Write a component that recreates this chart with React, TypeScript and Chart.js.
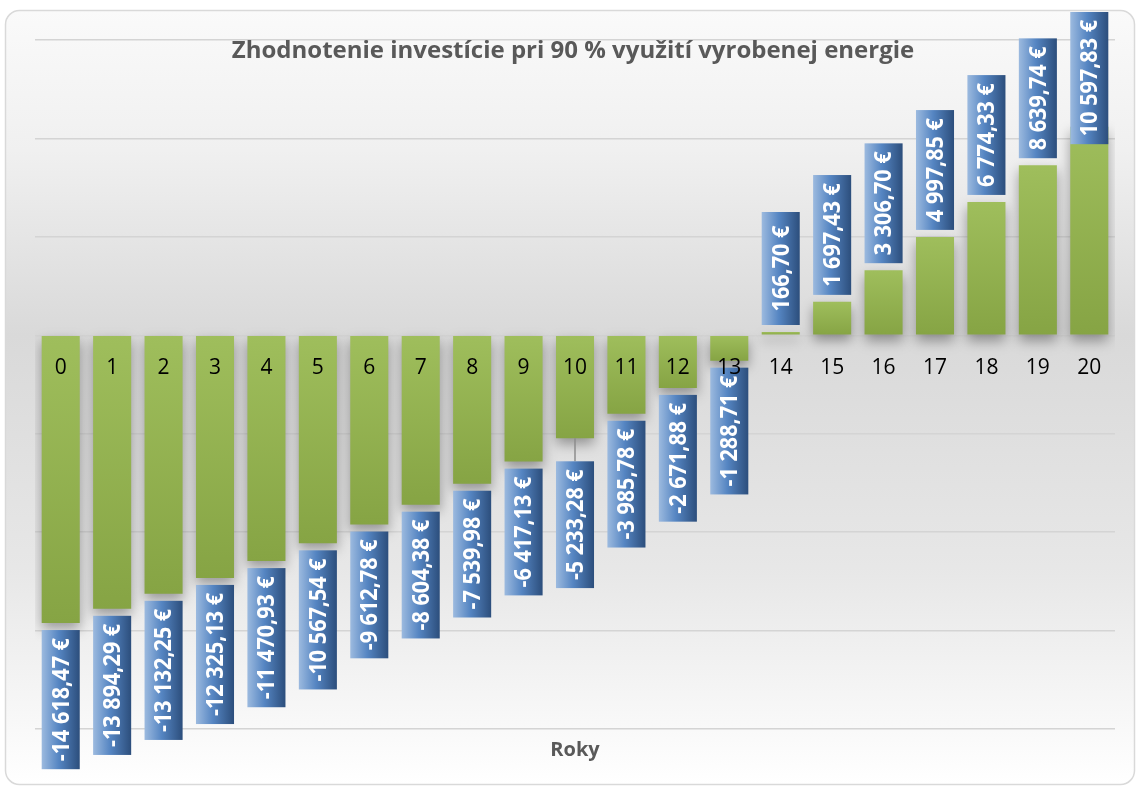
import React, { useEffect, useRef } from 'react';
import { Chart, registerables } from 'chart.js';

Chart.register(...registerables);

const chartTitle = 'Zhodnotenie investície pri 90 % využití vyrobenej energie';
const xAxisTitle = 'Roky';
const years = ['0', '1', '2', '3', '4', '5', '6', '7', '8', '9', '10', '11', '12', '13', '14', '15', '16', '17', '18', '19', '20'];
const values = [
  -14618.47, -13894.29, -13132.25, -12325.13, -11470.93, -10567.54, -9612.78, -8604.38, -7539.98, -6417.13,
  -5233.28, -3985.78, -2671.88, -1288.71, 166.7, 1697.43, 3306.7, 4997.85, 6774.33, 8639.74, 10597.83,
];
const yMin = -20000;
const yMax = 15000;
const yStep = 5000;

const FONT = '"Open Sans", "Noto Sans", "DejaVu Sans", sans-serif';
const SQ = 0.9; // horizontal squeeze of label text (Calibri-like width)
const LABEL_GAP = 7;
const leaderExtra: Record<number, number> = { 10: 16 };

function formatEur(v: number): string {
  const neg = v < 0;
  const [i, d] = Math.abs(v).toFixed(2).split('.');
  const grouped = i.replace(/\B(?=(\d{3})+(?!\d))/g, ' ');
  return (neg ? '-' : '') + grouped + ',' + d + ' €';
}

const decor = {
  id: 'decor',
  beforeDraw(chart: any) {
    const { ctx, width, height } = chart;
    ctx.save();
    ctx.fillStyle = '#ffffff';
    ctx.fillRect(0, 0, width, height);
    const x0 = 5.5, y0 = 10.5, x1 = 1134.5, y1 = 784.5, r = 14;
    const g = ctx.createLinearGradient(0, y0, 0, y1);
    g.addColorStop(0, '#fafafa');
    g.addColorStop(0.18, '#f0f0f0');
    g.addColorStop(0.42, '#d9d9d9');
    g.addColorStop(0.72, '#e7e7e7');
    g.addColorStop(1, '#ffffff');
    ctx.beginPath();
    ctx.roundRect(x0, y0, x1 - x0, y1 - y0, r);
    ctx.fillStyle = g;
    ctx.fill();
    ctx.strokeStyle = '#d9d9d9';
    ctx.lineWidth = 1.5;
    ctx.stroke();
    ctx.restore();
  },
  beforeDatasetsDraw(chart: any) {
    const { ctx } = chart;
    ctx.save();
    ctx.shadowColor = 'rgba(0,0,0,0.35)';
    ctx.shadowBlur = 12;
    ctx.shadowOffsetX = 0;
    ctx.shadowOffsetY = 6;
  },
  afterDatasetsDraw(chart: any) {
    const { ctx, scales } = chart;
    ctx.restore();
    const meta = chart.getDatasetMeta(0);
    const zeroY = scales.y.getPixelForValue(0);
    meta.data.forEach((bar: any, i: number) => {
      const v = values[i];
      const text = formatEur(v);
      ctx.save();
      ctx.font = `bold 24px ${FONT}`;
      const tw = ctx.measureText(text).width * SQ;
      const h = Math.max(tw + 16, 113);
      const w = bar.width;
      const extra = leaderExtra[i] || 0;
      let top: number;
      if (v >= 0) {
        top = bar.y - LABEL_GAP - h;
        if (top < 12) top = 12;
      } else {
        top = bar.y + LABEL_GAP + extra;
      }
      if (extra) {
        ctx.strokeStyle = '#8c8c8c';
        ctx.lineWidth = 1.5;
        ctx.beginPath();
        ctx.moveTo(bar.x, bar.y);
        ctx.lineTo(bar.x, top);
        ctx.stroke();
      }
      const left = bar.x - w / 2;
      const g = ctx.createLinearGradient(left, 0, left + w, 0);
      g.addColorStop(0, '#9cbadf');
      g.addColorStop(0.45, '#5585c2');
      g.addColorStop(1, '#2c4e7c');
      ctx.fillStyle = g;
      ctx.fillRect(left, top, w, h);
      ctx.translate(bar.x, top + h / 2);
      ctx.rotate(-Math.PI / 2);
      ctx.scale(SQ, 1);
      ctx.fillStyle = '#ffffff';
      ctx.textAlign = 'center';
      ctx.textBaseline = 'middle';
      ctx.fillText(text, 0, 1);
      ctx.restore();

      ctx.save();
      ctx.font = `21px ${FONT}`;
      ctx.fillStyle = '#000000';
      ctx.textAlign = 'center';
      ctx.textBaseline = 'alphabetic';
      ctx.fillText(years[i], bar.x, zeroY + 39);
      ctx.restore();
    });
  },
  afterDraw(chart: any) {
    const { ctx } = chart;
    ctx.save();
    ctx.fillStyle = '#595959';
    ctx.textAlign = 'center';
    ctx.textBaseline = 'alphabetic';
    ctx.font = `bold 24px ${FONT}`;
    ctx.fillText(chartTitle, 573, 58);
    ctx.font = `bold 20px ${FONT}`;
    ctx.fillText(xAxisTitle, 575, 756);
    ctx.restore();
  },
};

export default function App() {
  const ref = useRef<HTMLCanvasElement>(null);
  useEffect(() => {
    const chart = new Chart(ref.current as HTMLCanvasElement, {
      type: 'bar',
      data: {
        labels: years,
        datasets: [
          {
            data: values,
            backgroundColor: (c: any) => {
              const chart = c.chart;
              const { ctx, chartArea, scales } = chart;
              if (!chartArea || !scales.y || c.type !== 'data') return '#9bbb59';
              const v = values[c.dataIndex];
              const y0 = scales.y.getPixelForValue(0);
              const y1 = scales.y.getPixelForValue(v);
              const g = ctx.createLinearGradient(0, Math.min(y0, y1), 0, Math.max(y0, y1));
              g.addColorStop(0, '#9fbe5c');
              g.addColorStop(1, '#86a444');
              return g;
            },
            borderWidth: 0,
            categoryPercentage: 1,
            barPercentage: 0.74,
          },
        ],
      },
      options: {
        responsive: false,
        devicePixelRatio: 1,
        animation: false,
        layout: { padding: { left: 35, right: 22, top: 40, bottom: 60 } },
        plugins: {
          legend: { display: false },
          title: { display: false },
          tooltip: { enabled: false },
        },
        scales: {
          x: { display: false },
          y: {
            min: yMin,
            max: yMax,
            ticks: { stepSize: yStep, display: false },
            grid: { color: '#d4d4d4', lineWidth: 1.5, drawTicks: false },
            border: { display: false },
          },
        },
      },
      plugins: [decor],
    });
    return () => chart.destroy();
  }, []);
  return (
    <div style={{ position: 'fixed', left: 0, top: 0, width: 1137, height: 789 }}>
      <canvas ref={ref} width={1137} height={789} style={{ display: 'block', width: 1137, height: 789 }} />
    </div>
  );
}
